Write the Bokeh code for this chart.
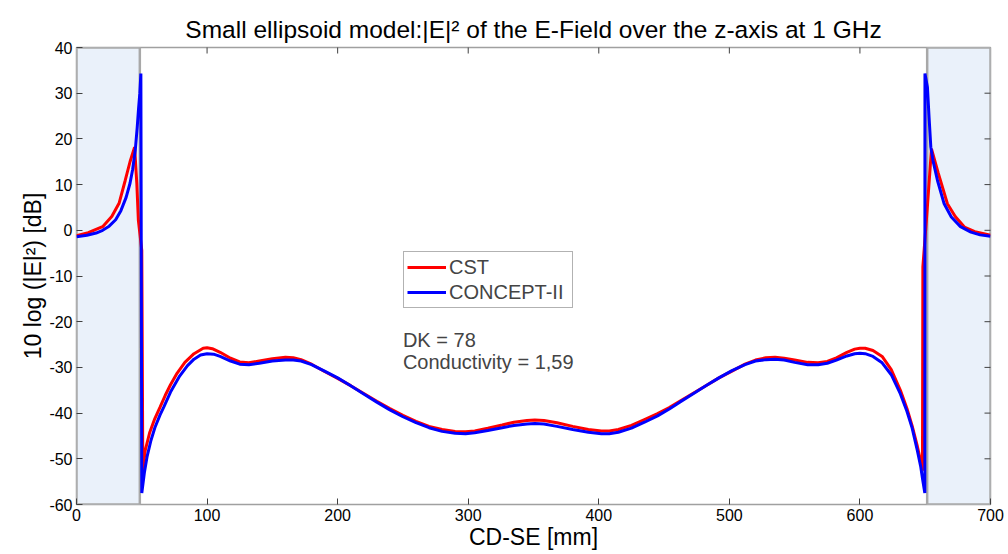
import math
from bokeh.plotting import figure
from bokeh.models import Legend, LegendItem, Range1d, FixedTicker, Label
from bokeh.embed import file_html
from bokeh.resources import INLINE

# ---------------- data ----------------
title_text = "Small ellipsoid model:|E|² of the E-Field over the z-axis at 1 GHz"
x_label = "CD-SE [mm]"
y_label = "10 log (|E|²) [dB]"
x_ticks = [0, 100, 200, 300, 400, 500, 600, 700]
y_ticks = [-60, -50, -40, -30, -20, -10, 0, 10, 20, 30, 40]
y_tick_labels = ["-60", "-50", "-40", "-30", "-20", "-10", "0", "10", "20", "30", "40"]
series_names = ["CST", "CONCEPT-II"]
note_lines = ["DK = 78", "Conductivity = 1,59"]

# highlighted end regions (mm)
region_left = [0, 651.5]
region_right = [48.5, 700]

cst_x = [0, 9, 20, 27, 32.6, 37.3, 41, 44.5, 46.2, 47.4, 50, 50.8, 52.6, 56, 60, 64, 68, 72, 77, 83, 90,
         97, 100, 104, 110, 118, 125, 132, 140, 150, 160, 166, 172, 180, 190, 200, 210, 220, 230, 240,
         250, 260, 270, 280, 290, 298, 305, 315, 326, 335, 345, 351, 358, 368, 380, 392, 402, 408, 415,
         425, 435, 445, 454, 462, 472, 482, 492, 502, 512, 520, 528, 535, 542, 550, 560, 568, 575, 582,
         590, 596, 600, 604, 610, 617, 624, 631, 636, 640, 644, 646.5, 647.9, 648.2, 651.5, 654.8, 660,
         667, 673, 680, 688, 700]
cst_y = [-1.2, -0.5, 0.8, 3.0, 5.9, 10.9, 15.0, 18.2, 10.2, 2.1, -4.4, -52.6, -48.2, -44.3, -41.2, -38.7,
         -36.1, -33.8, -31.3, -28.9, -27.0, -25.8, -25.7, -25.9, -26.7, -28.0, -28.8, -29.0, -28.6, -28.1,
         -27.8, -27.9, -28.3, -29.3, -30.9, -32.4, -34.0, -35.7, -37.4, -39.0, -40.5, -41.8, -42.9, -43.6,
         -44.0, -44.1, -43.9, -43.3, -42.6, -42.0, -41.6, -41.5, -41.6, -42.1, -42.9, -43.6, -43.9, -43.9,
         -43.6, -42.7, -41.4, -40.1, -38.8, -37.4, -35.7, -34.0, -32.3, -30.8, -29.3, -28.4, -27.9, -27.8,
         -28.0, -28.4, -28.9, -29.0, -28.7, -27.9, -26.7, -26.0, -25.8, -25.8, -26.3, -27.6, -30.5, -35.0,
         -39.0, -42.8, -47.3, -50.5, -52.6, -8.0, 4.5, 17.8, 12.5, 5.8, 3.0, 0.7, -0.3, -1.1]

concept_x = [0, 8, 15, 20, 25, 30, 34, 38, 41, 43, 45, 46.5, 47.5, 48.5, 49.3, 50.0, 52, 54, 57, 60, 64,
             67, 72, 79, 85, 90, 95, 100, 105, 110, 118, 125, 132, 140, 150, 160, 166, 172, 180, 190, 200,
             210, 220, 230, 240, 250, 260, 270, 280, 290, 298, 305, 315, 326, 335, 345, 351, 358, 368, 380,
             392, 402, 408, 415, 425, 435, 445, 454, 462, 472, 482, 492, 502, 512, 520, 528, 535, 542, 550,
             560, 568, 575, 582, 590, 596, 600, 604, 610, 617, 624, 631, 636, 640, 644, 646.6, 648, 649.7,
             649.8, 651.7, 653, 654.3, 656, 659.4, 664.5, 670, 677, 685, 692, 700]
concept_y = [-1.4, -1.1, -0.6, 0.0, 0.9, 2.3, 4.3, 7.2, 10.3, 13.3, 17.5, 22.5, 26.5, 30.0, 34.3, -57.5,
             -53.0, -49.6, -46.0, -43.2, -40.4, -38.6, -35.4, -31.9, -29.6, -28.2, -27.3, -27.0, -27.1,
             -27.6, -28.6, -29.3, -29.4, -29.1, -28.6, -28.4, -28.4, -28.6, -29.4, -30.8, -32.3, -34.0,
             -35.8, -37.6, -39.3, -40.8, -42.1, -43.2, -44.0, -44.4, -44.5, -44.3, -43.8, -43.2, -42.7,
             -42.4, -42.3, -42.4, -42.9, -43.6, -44.2, -44.5, -44.5, -44.2, -43.3, -42.0, -40.6, -39.1,
             -37.6, -35.8, -34.0, -32.3, -30.7, -29.4, -28.6, -28.3, -28.2, -28.4, -28.9, -29.4, -29.4,
             -29.1, -28.4, -27.5, -27.0, -26.9, -27.0, -27.6, -29.0, -31.6, -35.8, -39.6, -43.3, -48.2,
             -51.8, -54.5, -57.5, 34.3, 31.3, 24.5, 18.2, 15.2, 10.9, 5.8, 2.9, 0.8, -0.4, -1.0, -1.3]

# ---------------- styling ----------------
FONT = "Liberation Sans"
box_color = "#a0a0a0"
tick_color = "#404040"

X0, X1 = x_ticks[0], x_ticks[-1]
Y0, Y1 = y_ticks[0], y_ticks[-1]

p = figure(width=1008, height=554, output_backend="svg", toolbar_location=None,
           x_range=Range1d(X0, X1), y_range=Range1d(Y0, Y1),
           min_border_left=76, min_border_top=47, min_border_right=18, min_border_bottom=50)
p.outline_line_color = box_color
p.outline_line_width = 1.5
p.xgrid.visible = False
p.ygrid.visible = False

p.title.text = title_text
p.title.align = "center"
p.title.text_font = FONT
p.title.text_font_size = "24.5px"
p.title.text_font_style = "normal"
p.title.text_color = "black"

# shaded regions
p.quad(left=region_left, right=region_right, bottom=[Y0, Y0], top=[Y1, Y1],
       fill_color="#eaf1fa", line_color="#a8a8a8", line_width=2.5)

r_cst = p.line(cst_x, cst_y, line_color="#ff0000", line_width=3)
r_con = p.line(concept_x, concept_y, line_color="#0000ff", line_width=3)

for ax in (p.xaxis[0], p.yaxis[0]):
    ax.axis_line_color = None
    ax.major_tick_in = 6
    ax.major_tick_out = 0
    ax.major_tick_line_color = tick_color
    ax.minor_tick_line_color = None
    ax.major_label_text_font = FONT
    ax.major_label_text_font_size = "16px"
    ax.major_label_text_color = "black"
    ax.axis_label_text_font = FONT
    ax.axis_label_text_font_size = "23px"
    ax.axis_label_text_font_style = "normal"
    ax.axis_label_text_color = "black"

p.xaxis.ticker = FixedTicker(ticks=x_ticks)
p.yaxis.ticker = FixedTicker(ticks=y_ticks)
p.yaxis.major_label_overrides = {t: s for t, s in zip(y_ticks, y_tick_labels)}
p.xaxis.axis_label = x_label
p.yaxis.axis_label = y_label
p.xaxis.major_label_standoff = 4
p.xaxis.axis_label_standoff = 0
p.yaxis.major_label_standoff = 4
p.yaxis.axis_label_standoff = 0

# mirrored inner ticks on the top and right edges (half of each dash is clipped by the frame)
p.scatter(x=x_ticks[1:-1], y=[Y1] * (len(x_ticks) - 2), marker="dash", size=12, angle=math.pi / 2,
          line_color=tick_color, line_width=1)
p.scatter(x=[X1] * (len(y_ticks) - 2), y=y_ticks[1:-1], marker="dash", size=12,
          line_color=tick_color, line_width=1)

legend = Legend(items=[LegendItem(label=series_names[0], renderers=[r_cst]),
                       LegendItem(label=series_names[1], renderers=[r_con])],
                location=(327, 196), orientation="vertical",
                label_text_font=FONT, label_text_font_size="20px",
                padding=3, spacing=1, glyph_width=39, glyph_height=24,
                label_height=24, label_width=120, label_standoff=3,
                border_line_color="#666666", border_line_width=1,
                background_fill_color="white", background_fill_alpha=1.0, margin=0)
p.add_layout(legend, "center")

p.add_layout(Label(x=250, y=-24.1, text=note_lines[0], text_font=FONT, text_font_size="20px",
                   text_baseline="alphabetic"))
p.add_layout(Label(x=250, y=-28.9, text=note_lines[1], text_font=FONT, text_font_size="20px",
                   text_baseline="alphabetic"))

open("out.html", "w").write(file_html(p, INLINE))
